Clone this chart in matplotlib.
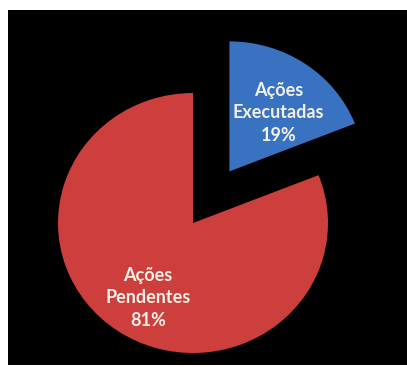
import matplotlib
matplotlib.use("Agg")
import matplotlib.pyplot as plt
from matplotlib.transforms import offset_copy

categories = ["Ações\nExecutadas", "Ações\nPendentes"]
values = [19, 81]
colors = ["#3A72C2", "#CD3F3C"]

W, H = 407, 367
fig = plt.figure(figsize=(W / 100, H / 100), dpi=100, facecolor="white")

# black panel
left, right, top, bottom = 8, 407, 10, 365
ax = fig.add_axes([left / W, (H - bottom) / H, (right - left) / W, (bottom - top) / H])
ax.set_facecolor("black")
for s in ax.spines.values():
    s.set_visible(False)

k = 130 / 135  # vertical squash of the pie
ax_w = right - left
ax_h = bottom - top

cx = 193 - left
cy = (H - 223 - (H - bottom)) / k
R = 135

total = sum(values)
labels = [f"{c}\n{round(v / total * 100)}%" for c, v in zip(categories, values)]

wedges, texts = ax.pie(values, colors=colors, startangle=90, counterclock=False,
                       explode=[0.48 * R, 0], center=(cx, cy), radius=R,
                       labels=labels, labeldistance=0.62, frame=True,
                       wedgeprops=dict(linewidth=0))
shift = offset_copy(ax.transData, fig=fig, x=2, y=-8, units="dots")
for t in texts:
    t.set_transform(shift)
    t.set_ha("center")
    t.set_va("center")
    t.set_color("#F4F1E6")
    t.set_fontsize(13)
    t.set_fontweight("bold")
    t.set_family("Lato")
    t.set_linespacing(1.4)

ax.set_aspect("auto")
ax.set_xlim(0, ax_w)
ax.set_ylim(0, ax_h / k)
ax.set_xticks([])
ax.set_yticks([])

fig.savefig("out.png", dpi=100, facecolor="white")
